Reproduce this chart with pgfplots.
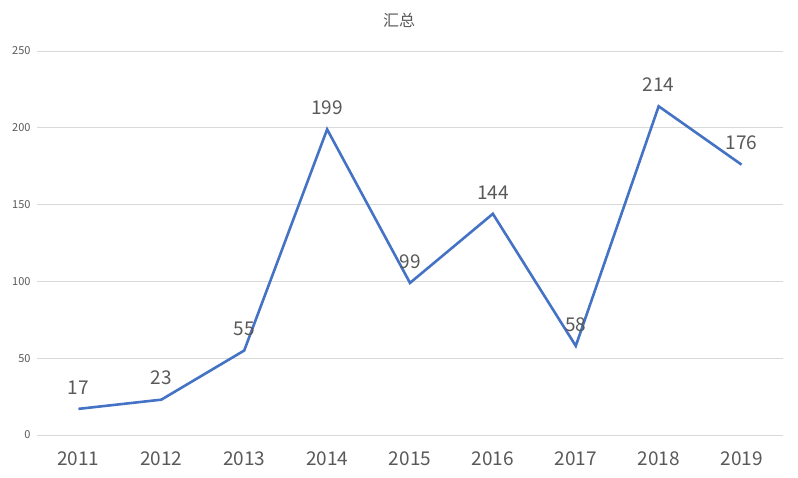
\documentclass[border=0pt]{standalone}
\usepackage{pgfplots}
\pgfplotsset{compat=1.18}
\usepackage{fontspec}
\setmainfont{Noto Sans CJK SC}
\definecolor{linecol}{HTML}{4472C4}
\definecolor{txt}{HTML}{595959}
\definecolor{gridc}{HTML}{D9D9D9}
\begin{document}
\begin{tikzpicture}[x=1pt,y=1pt]
\path (0,0) rectangle (798,478);
\begin{axis}[
  at={(37pt,43pt)}, anchor=south west,
  scale only axis, width=746pt, height=384pt,
  xmin=-0.5, xmax=8.5, ymin=0, ymax=250,
  axis line style={draw=none},
  xtick={0,...,8},
  xticklabels={2011,2012,2013,2014,2015,2016,2017,2018,2019},
  ytick={0,50,...,250},
  ymajorgrids, grid style={gridc, line width=0.8pt},
  major tick length=0pt,
  /pgf/number format/assume math mode=true,
  x tick label style={font=\fontsize{19}{22}\selectfont, text=txt, yshift=-13pt},
  y tick label style={font=\fontsize{11}{13}\selectfont, text=txt, xshift=-3pt},
  nodes near coords,
  every node near coord/.append style={font=\fontsize{19}{22}\selectfont, text=txt, anchor=south, yshift=10pt},
  clip=false,
]
\addplot[linecol, line width=2.6pt, mark=none] coordinates {
(0,17) (1,23) (2,55) (3,199) (4,99) (5,144) (6,58) (7,214) (8,176)
};
\end{axis}
\node[text=txt, font=\fontsize{16}{18}\selectfont] at (399,458) {汇总};
\end{tikzpicture}
\end{document}
